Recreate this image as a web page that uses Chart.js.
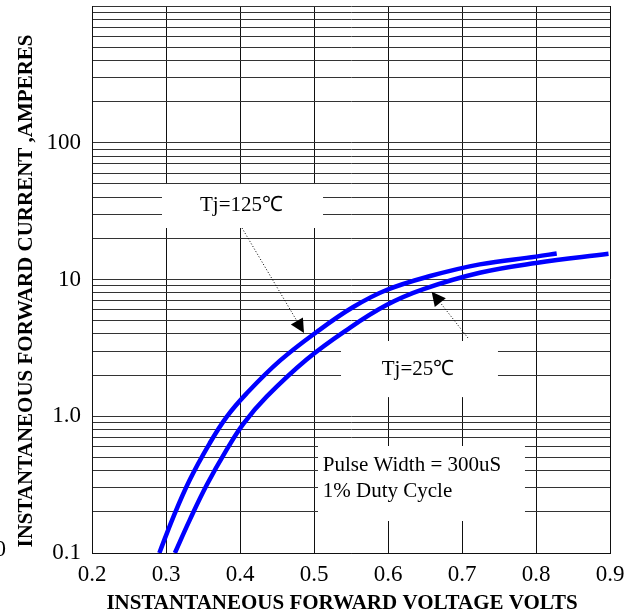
<!DOCTYPE html>
<html>
<head>
<meta charset="utf-8">
<script src="https://cdn.jsdelivr.net/npm/chart.js@4.4.1/dist/chart.umd.min.js"></script>
<style>
  body { margin: 0; background: #fff; }
  #wrap { width: 626px; height: 614px; }
</style>
</head>
<body>
<div id="wrap"><canvas id="chart" width="626" height="614"></canvas></div>
<script>
// forward voltage (V) vs forward current (A)
const vf125 = [0.291, 0.31, 0.332, 0.359, 0.382, 0.409, 0.454, 0.504, 0.553, 0.598, 0.657, 0.724, 0.8, 0.828];
const if125 = [0.1, 0.184, 0.342, 0.634, 0.99, 1.47, 2.55, 4.15, 6.29, 8.38, 10.6, 12.9, 14.7, 15.5];
const vf25 = [0.312, 0.332, 0.355, 0.382, 0.405, 0.436, 0.49, 0.544, 0.598, 0.648, 0.724, 0.8, 0.898];
const if25 = [0.1, 0.174, 0.314, 0.57, 0.888, 1.39, 2.6, 4.27, 6.5, 8.5, 11.2, 13.2, 15.4];

const xTicks = [0.2, 0.3, 0.4, 0.5, 0.6, 0.7, 0.8, 0.9];
const xTickLabels = ['0.2', '0.3', '0.4', '0.5', '0.6', '0.7', '0.8', '0.9'];
const yDecades = [0.1, 1, 10, 100];
const yTickLabels = ['0.1', '1.0', '10', '100'];

const xTitle = 'INSTANTANEOUS FORWARD VOLTAGE VOLTS';
const yTitle = 'INSTANTANEOUS FORWARD CURRENT ,AMPERES';

// log grid: 1..9 in every decade, plus the top line
const yGrid = [];
yDecades.forEach(d => {
  for (let k = 1; k <= 9; k++) yGrid.push(parseFloat((k * d).toPrecision(6)));
});
yGrid.push(1000);

const toPoints = (xs, ys) => xs.map((v, i) => ({ x: v, y: ys[i] }));

// white label boxes and notes, in data units
const boxes = [
  { x0: 0.2946, x1: 0.5122, y0: 23.8, y1: 49.9 },
  { x0: 0.5365, x1: 0.7486, y0: 1.38, y1: 3.55 },
  { x0: 0.5054, x1: 0.7851, y0: 0.1714, y1: 0.606 }
];
const notes = [
  { text: 'Tj=125\u2103', x: 0.402, y: 34.5, align: 'center' },
  { text: 'Tj=25\u2103', x: 0.6405, y: 2.18, align: 'center' },
  { text: 'Pulse Width = 300uS', x: 0.5118, y: 0.433, align: 'left' },
  { text: '1% Duty Cycle', x: 0.5118, y: 0.284, align: 'left' }
];
const arrows = [
  { x0: 0.4027, y0: 23.8, x1: 0.4865, y1: 4.06 },
  { x0: 0.708, y0: 3.74, x1: 0.659, y1: 8.15 }
];

const notesPlugin = {
  id: 'notes',
  beforeDatasetsDraw(chart) {
    const { ctx, scales: { x, y } } = chart;
    ctx.save();
    ctx.fillStyle = '#fff';
    boxes.forEach(b => {
      const l = x.getPixelForValue(b.x0), r = x.getPixelForValue(b.x1);
      const t = y.getPixelForValue(b.y1), bt = y.getPixelForValue(b.y0);
      ctx.fillRect(l, t, r - l, bt - t);
    });
    ctx.restore();
  },
  afterDatasetsDraw(chart) {
    const { ctx, scales: { x, y } } = chart;
    ctx.save();
    ctx.fillStyle = '#000';
    ctx.font = '21px "Liberation Serif", "Times New Roman", serif';
    ctx.textBaseline = 'middle';
    notes.forEach(n => {
      ctx.textAlign = n.align;
      ctx.fillText(n.text, x.getPixelForValue(n.x), y.getPixelForValue(n.y));
    });

    arrows.forEach(a => {
      const sx = x.getPixelForValue(a.x0), sy = y.getPixelForValue(a.y0);
      const tx = x.getPixelForValue(a.x1), ty = y.getPixelForValue(a.y1);
      const len = Math.hypot(tx - sx, ty - sy);
      const ux = (tx - sx) / len, uy = (ty - sy) / len;
      const bx = tx - ux * 14, by = ty - uy * 14;
      ctx.strokeStyle = '#000';
      ctx.lineWidth = 1;
      ctx.setLineDash([1, 2]);
      ctx.beginPath();
      ctx.moveTo(sx, sy);
      ctx.lineTo(bx, by);
      ctx.stroke();
      ctx.setLineDash([]);
      ctx.beginPath();
      ctx.moveTo(tx, ty);
      ctx.lineTo(bx - uy * 7, by + ux * 7);
      ctx.lineTo(bx + uy * 7, by - ux * 7);
      ctx.closePath();
      ctx.fill();
    });
    ctx.restore();
  },
  afterDraw(chart) {
    const { ctx } = chart;
    ctx.save();
    ctx.fillStyle = '#000';
    ctx.font = 'bold 21px "Liberation Serif", "Times New Roman", serif';
    ctx.textAlign = 'center';
    ctx.textBaseline = 'middle';
    ctx.fillText(xTitle, 342, 604);
    ctx.translate(27, 291);
    ctx.rotate(-Math.PI / 2);
    ctx.fillText(yTitle, 0, 0);
    ctx.restore();
    // clipped label stub at the left edge
    ctx.save();
    ctx.fillStyle = '#000';
    ctx.font = '23px "Liberation Serif", "Times New Roman", serif';
    ctx.textAlign = 'right';
    ctx.textBaseline = 'middle';
    ctx.fillText('0', 6, 550);
    ctx.restore();
  }
};

const tickFont = { family: '"Liberation Serif", "Times New Roman", serif', size: 23 };

const noPad = scale => {
  scale.paddingTop = 0;
  scale.paddingBottom = 0;
  scale.paddingLeft = 0;
  scale.paddingRight = 0;
};

new Chart(document.getElementById('chart'), {
  type: 'line',
  data: {
    datasets: [
      {
        label: 'Tj=125',
        data: toPoints(vf125, if125),
        borderColor: '#0000ff',
        borderWidth: 4.5,
        pointRadius: 0,
        tension: 0.4,
        fill: false
      },
      {
        label: 'Tj=25',
        data: toPoints(vf25, if25),
        borderColor: '#0000ff',
        borderWidth: 4.5,
        pointRadius: 0,
        tension: 0.4,
        fill: false
      }
    ]
  },
  options: {
    responsive: false,
    animation: false,
    layout: { padding: { top: 6, right: 16, left: 0, bottom: 0 } },
    plugins: {
      legend: { display: false },
      tooltip: { enabled: false }
    },
    scales: {
      x: {
        type: 'linear',
        min: 0.2,
        max: 0.9,
        afterBuildTicks: scale => { scale.ticks = xTicks.map(v => ({ value: v })); },
        afterFit: scale => { scale.height = 61; noPad(scale); },
        ticks: {
          autoSkip: false,
          maxRotation: 0,
          padding: 8,
          color: '#000',
          font: tickFont,
          callback: (v, i) => xTickLabels[i]
        },
        grid: { color: '#111', lineWidth: 1, drawTicks: false },
        border: { color: '#111', width: 1 }
      },
      y: {
        type: 'logarithmic',
        min: 0.1,
        max: 1000,
        afterBuildTicks: scale => { scale.ticks = yGrid.map(v => ({ value: v })); },
        afterFit: scale => { scale.width = 92; noPad(scale); },
        ticks: {
          autoSkip: false,
          padding: 11,
          color: '#000',
          font: tickFont,
          callback: v => {
            const i = yDecades.indexOf(v);
            return i >= 0 ? yTickLabels[i] : '';
          }
        },
        grid: { color: '#333', lineWidth: 1, drawTicks: false },
        border: { color: '#111', width: 1 }
      }
    }
  },
  plugins: [notesPlugin]
});
</script>
</body>
</html>
